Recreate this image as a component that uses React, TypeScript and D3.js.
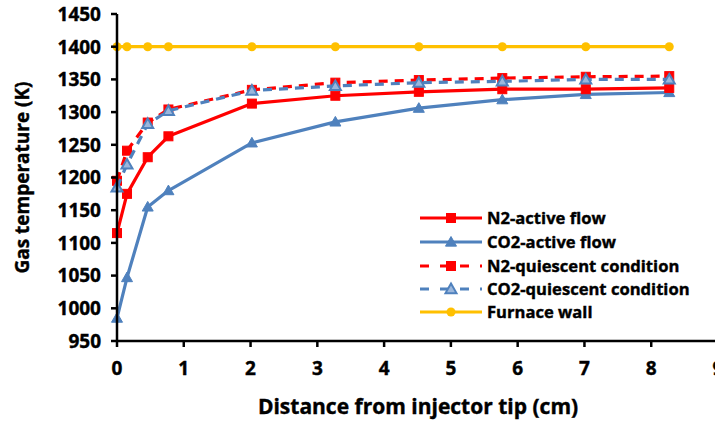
import React from "react";
import * as d3 from "d3";

// Axial positions of the thermocouple readings (cm from injector tip)
const distance = [0, 0.15, 0.46, 0.77, 2.02, 3.27, 4.52, 5.77, 7.02, 8.27];

// Gas temperatures (K)
const n2Active = [1115, 1175, 1231, 1263, 1313, 1325, 1331, 1335, 1335, 1337];
const co2Active = [985, 1047, 1155, 1180, 1253, 1285, 1306, 1319, 1327, 1330];
const n2Quiescent = [1195, 1241, 1284, 1304, 1334, 1345, 1349, 1352, 1354, 1355];
const co2Quiescent = [1185, 1220, 1282, 1302, 1333, 1340, 1345, 1347, 1350, 1350];
const furnaceWall = [1400, 1400, 1400, 1400, 1400, 1400, 1400, 1400, 1400, 1400];

const xTicks = [0, 1, 2, 3, 4, 5, 6, 7, 8, 9];
const yTicks = [950, 1000, 1050, 1100, 1150, 1200, 1250, 1300, 1350, 1400, 1450];

const seriesNames = [
  "N2-active flow",
  "CO2-active flow",
  "N2-quiescent condition",
  "CO2-quiescent condition",
  "Furnace wall",
];

const RED = "#ff0000";
const BLUE = "#4f81bd";
const GOLD = "#ffc000";
const FONT = "'Open Sans', Lato, sans-serif";

type Marker = "square" | "triangle" | "triangleOpen" | "circle";

interface Series {
  name: string;
  values: number[];
  color: string;
  dashed: boolean;
  marker: Marker;
}

const series: Series[] = [
  { name: seriesNames[4], values: furnaceWall, color: GOLD, dashed: false, marker: "circle" },
  { name: seriesNames[1], values: co2Active, color: BLUE, dashed: false, marker: "triangle" },
  { name: seriesNames[0], values: n2Active, color: RED, dashed: false, marker: "square" },
  { name: seriesNames[2], values: n2Quiescent, color: RED, dashed: true, marker: "square" },
  { name: seriesNames[3], values: co2Quiescent, color: BLUE, dashed: true, marker: "triangleOpen" },
];

const legendOrder = [2, 1, 3, 4, 0];

function MarkerShape({ kind, color, x, y }: { kind: Marker; color: string; x: number; y: number }) {
  if (kind === "square") {
    return <rect x={x - 4.5} y={y - 4.5} width={9} height={9} fill={color} stroke={color} strokeWidth={1} />;
  }
  if (kind === "circle") {
    return <circle cx={x} cy={y} r={4.5} fill={color} />;
  }
  const s = 5.5;
  const path = `M${x},${y - s} L${x + s},${y + s * 0.75} L${x - s},${y + s * 0.75} Z`;
  if (kind === "triangleOpen") {
    return <path d={path} fill="#9bb7dc" stroke={color} strokeWidth={2} />;
  }
  return <path d={path} fill={color} stroke={color} strokeWidth={1} />;
}

// bold text with a thin outline for a heavier look
const heavy = { fontWeight: 700, fill: "#000", stroke: "#000", strokeWidth: 0.4 } as const;

export default function App() {
  const width = 715;
  const height = 421;
  const left = 117;
  const right = 718;
  const top = 14;
  const bottom = 341;

  const x = d3.scaleLinear().domain([0, 9]).range([left, right]);
  const y = d3.scaleLinear().domain([950, 1450]).range([bottom, top]);

  const line = d3
    .line<number>()
    .x((_, i) => x(distance[i]))
    .y((v) => y(v));

  const legendX = 420;
  const legendY = [218, 242, 266, 289, 312];

  return (
    <svg
      width={width}
      height={height}
      style={{ position: "absolute", left: 0, top: 0, background: "#fff" }}
      fontFamily={FONT}
    >
      <rect width={width} height={height} fill="#fff" />

      {/* series lines and markers */}
      {series.map((s) => (
        <g key={s.name}>
          <path
            d={line(s.values) || ""}
            fill="none"
            stroke={s.color}
            strokeWidth={3.2}
            strokeDasharray={s.dashed ? "9,7" : undefined}
            strokeLinejoin="round"
          />
          {s.values.map((v, i) => (
            <MarkerShape key={i} kind={s.marker} color={s.color} x={x(distance[i])} y={y(v)} />
          ))}
        </g>
      ))}

      {/* y axis */}
      <line x1={left} x2={left} y1={top} y2={bottom} stroke="#000" strokeWidth={2.5} />
      {yTicks.map((t) => (
        <g key={t}>
          <line x1={left - 6} x2={left} y1={y(t)} y2={y(t)} stroke="#000" strokeWidth={2.5} />
          <text x={left - 16} y={y(t)} dy="0.36em" textAnchor="end" fontSize={19} {...heavy}>
            {t}
          </text>
        </g>
      ))}

      {/* x axis */}
      <line x1={left} x2={right} y1={bottom} y2={bottom} stroke="#000" strokeWidth={2.5} />
      {xTicks.map((t) => (
        <g key={t}>
          <line x1={x(t)} x2={x(t)} y1={bottom} y2={bottom + 6} stroke="#000" strokeWidth={2.5} />
          <text x={x(t)} y={bottom + 34} textAnchor="middle" fontSize={19} {...heavy}>
            {t}
          </text>
        </g>
      ))}

      {/* axis titles */}
      <text
        transform={`translate(29,${(top + bottom) / 2}) rotate(-90)`}
        textAnchor="middle"
        fontSize={19}
        {...heavy}
      >
        Gas temperature (K)
      </text>
      <text x={418} y={414} textAnchor="middle" fontSize={21} {...heavy}>
        Distance from injector tip (cm)
      </text>

      {/* legend */}
      {legendOrder.map((si, row) => {
        const s = series[si];
        const ly = legendY[row];
        return (
          <g key={s.name}>
            <line
              x1={legendX}
              x2={legendX + 62}
              y1={ly}
              y2={ly}
              stroke={s.color}
              strokeWidth={3.2}
              strokeDasharray={s.dashed ? "9,11" : undefined}
            />
            <MarkerShape kind={s.marker} color={s.color} x={legendX + 31} y={ly} />
            <text x={legendX + 67} y={ly} dy="0.36em" fontSize={16.6} {...heavy}>
              {s.name}
            </text>
          </g>
        );
      })}
    </svg>
  );
}
